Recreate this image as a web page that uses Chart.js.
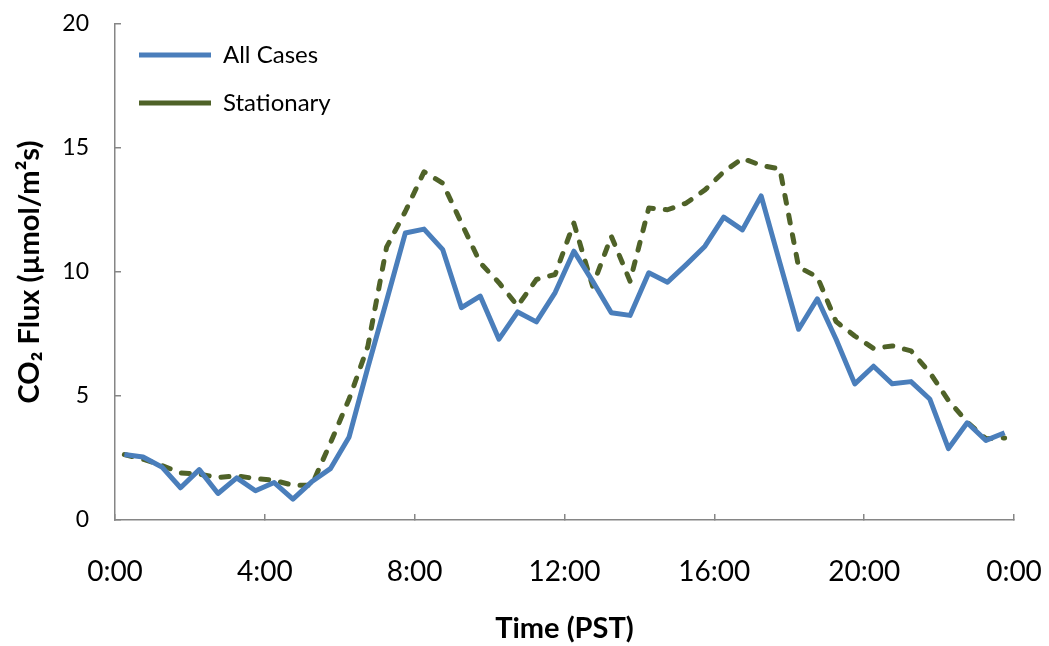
<!DOCTYPE html>
<html>
<head>
<meta charset="utf-8">
<title>CO2 Flux</title>
<script src="https://cdn.jsdelivr.net/npm/chart.js@4.4.1/dist/chart.umd.min.js"></script>
<style>
  html, body { margin: 0; padding: 0; background: #fff; }
  #wrap { width: 1049px; height: 646px; }
</style>
</head>
<body>
<div id="wrap"><canvas id="fluxChart" width="1049" height="646"></canvas></div>
<script>
// --- Data (half-hourly means, time in hours PST)
const hours = [
  0.25, 0.75, 1.25, 1.75, 2.25, 2.75, 3.25, 3.75, 4.25, 4.75, 5.25, 5.75,
  6.25, 6.75, 7.25, 7.75, 8.25, 8.75, 9.25, 9.75, 10.25, 10.75, 11.25, 11.75,
  12.25, 12.75, 13.25, 13.75, 14.25, 14.75, 15.25, 15.75, 16.25, 16.75, 17.25, 17.75,
  18.25, 18.75, 19.25, 19.75, 20.25, 20.75, 21.25, 21.75, 22.25, 22.75, 23.25, 23.75
];
const allCases = [
  2.64, 2.54, 2.14, 1.30, 2.03, 1.07, 1.70, 1.18, 1.51, 0.84, 1.54, 2.07,
  3.35, 6.15, 8.84, 11.57, 11.73, 10.90, 8.56, 9.03, 7.29, 8.39, 7.99, 9.17,
  10.84, 9.63, 8.36, 8.25, 9.97, 9.59, 10.30, 11.04, 12.21, 11.70, 13.07, 10.37,
  7.69, 8.92, 7.29, 5.49, 6.20, 5.49, 5.58, 4.88, 2.88, 3.92, 3.21, 3.52
];
const stationary = [
  2.64, 2.45, 2.20, 1.90, 1.85, 1.71, 1.78, 1.67, 1.60, 1.40, 1.40, 3.10,
  4.88, 7.00, 11.00, 12.44, 14.04, 13.58, 11.97, 10.37, 9.57, 8.63, 9.70, 9.90,
  11.97, 9.43, 11.44, 9.63, 12.58, 12.51, 12.78, 13.31, 14.04, 14.58, 14.30, 14.15,
  10.20, 9.80, 8.00, 7.42, 6.92, 7.02, 6.82, 5.95, 4.82, 3.95, 3.28, 3.31
];
const xTickValues = [0, 4, 8, 12, 16, 20, 24];
const xTickLabels = ["0:00", "4:00", "8:00", "12:00", "16:00", "20:00", "0:00"];
const yTickValues = [0, 5, 10, 15, 20];

const axisGray = "#868686";
const FONT = "Lato";

window.addEventListener("load", () => {
  const ctx = document.getElementById("fluxChart").getContext("2d");
  new Chart(ctx, {
    type: "line",
    data: {
      datasets: [
        {
          label: "All Cases",
          data: hours.map((h, i) => ({ x: h, y: allCases[i] })),
          borderColor: "#4A7EBB",
          backgroundColor: "#4A7EBB",
          borderWidth: 5,
          borderJoinStyle: "round",
          pointRadius: 0,
          tension: 0
        },
        {
          label: "Stationary",
          data: hours.map((h, i) => ({ x: h, y: stationary[i] })),
          borderColor: "#4F6228",
          backgroundColor: "#4F6228",
          borderWidth: 5,
          borderDash: [8, 12],
          borderCapStyle: "round",
          borderJoinStyle: "round",
          pointRadius: 0,
          tension: 0
        }
      ]
    },
    options: {
      responsive: false,
      animation: false,
      devicePixelRatio: 1,
      layout: { padding: { top: 24, right: 35, left: 0, bottom: 0 } },
      plugins: {
        tooltip: { enabled: false },
        legend: {
          position: "chartArea",
          align: "start",
          // empty title only used as a top spacer for the legend entries
          title: { display: true, text: "", padding: { top: 19, bottom: 0 }, font: { size: 1, lineHeight: 0 } },
          labels: {
            usePointStyle: true,
            pointStyle: "line",
            pointStyleWidth: 72,
            boxHeight: 24,
            padding: 24,
            color: "#000",
            font: { family: FONT, size: 24 }
          }
        }
      },
      scales: {
        x: {
          type: "linear",
          min: 0, max: 24,
          afterBuildTicks: s => { s.ticks = xTickValues.map(v => ({ value: v })); },
          afterFit: s => { s.height = 126; s.paddingLeft = 0; s.paddingRight = 0; },
          grid: { drawOnChartArea: false, drawTicks: true, tickLength: -6, color: axisGray, lineWidth: 1.5 },
          border: { display: true, color: axisGray, width: 1.5 },
          ticks: {
            padding: 41,
            color: "#000",
            font: { family: FONT, size: 28 },
            maxRotation: 0,
            callback: (v, i) => xTickLabels[i]
          },
          title: {
            display: true,
            text: "Time (PST)",
            color: "#000",
            padding: { top: 0, bottom: 0 },
            font: { family: FONT, size: 29, weight: "bold" }
          }
        },
        y: {
          min: 0, max: 20,
          afterBuildTicks: s => { s.ticks = yTickValues.map(v => ({ value: v })); },
          afterFit: s => { s.width = 115; s.paddingTop = 0; s.paddingBottom = 0; },
          grid: { drawOnChartArea: false, drawTicks: true, tickLength: -6, color: axisGray, lineWidth: 1.5 },
          border: { display: true, color: axisGray, width: 1.5 },
          ticks: {
            padding: 32,
            color: "#000",
            font: { family: FONT, size: 23 }
          },
          title: {
            display: true,
            text: "CO\u2082 Flux (\u00B5mol/m\u00B2s)",
            color: "#000",
            padding: { top: 12, bottom: 0 },
            font: { family: FONT, size: 29, weight: "bold" }
          }
        }
      }
    }
  });
});
</script>
</body>
</html>
